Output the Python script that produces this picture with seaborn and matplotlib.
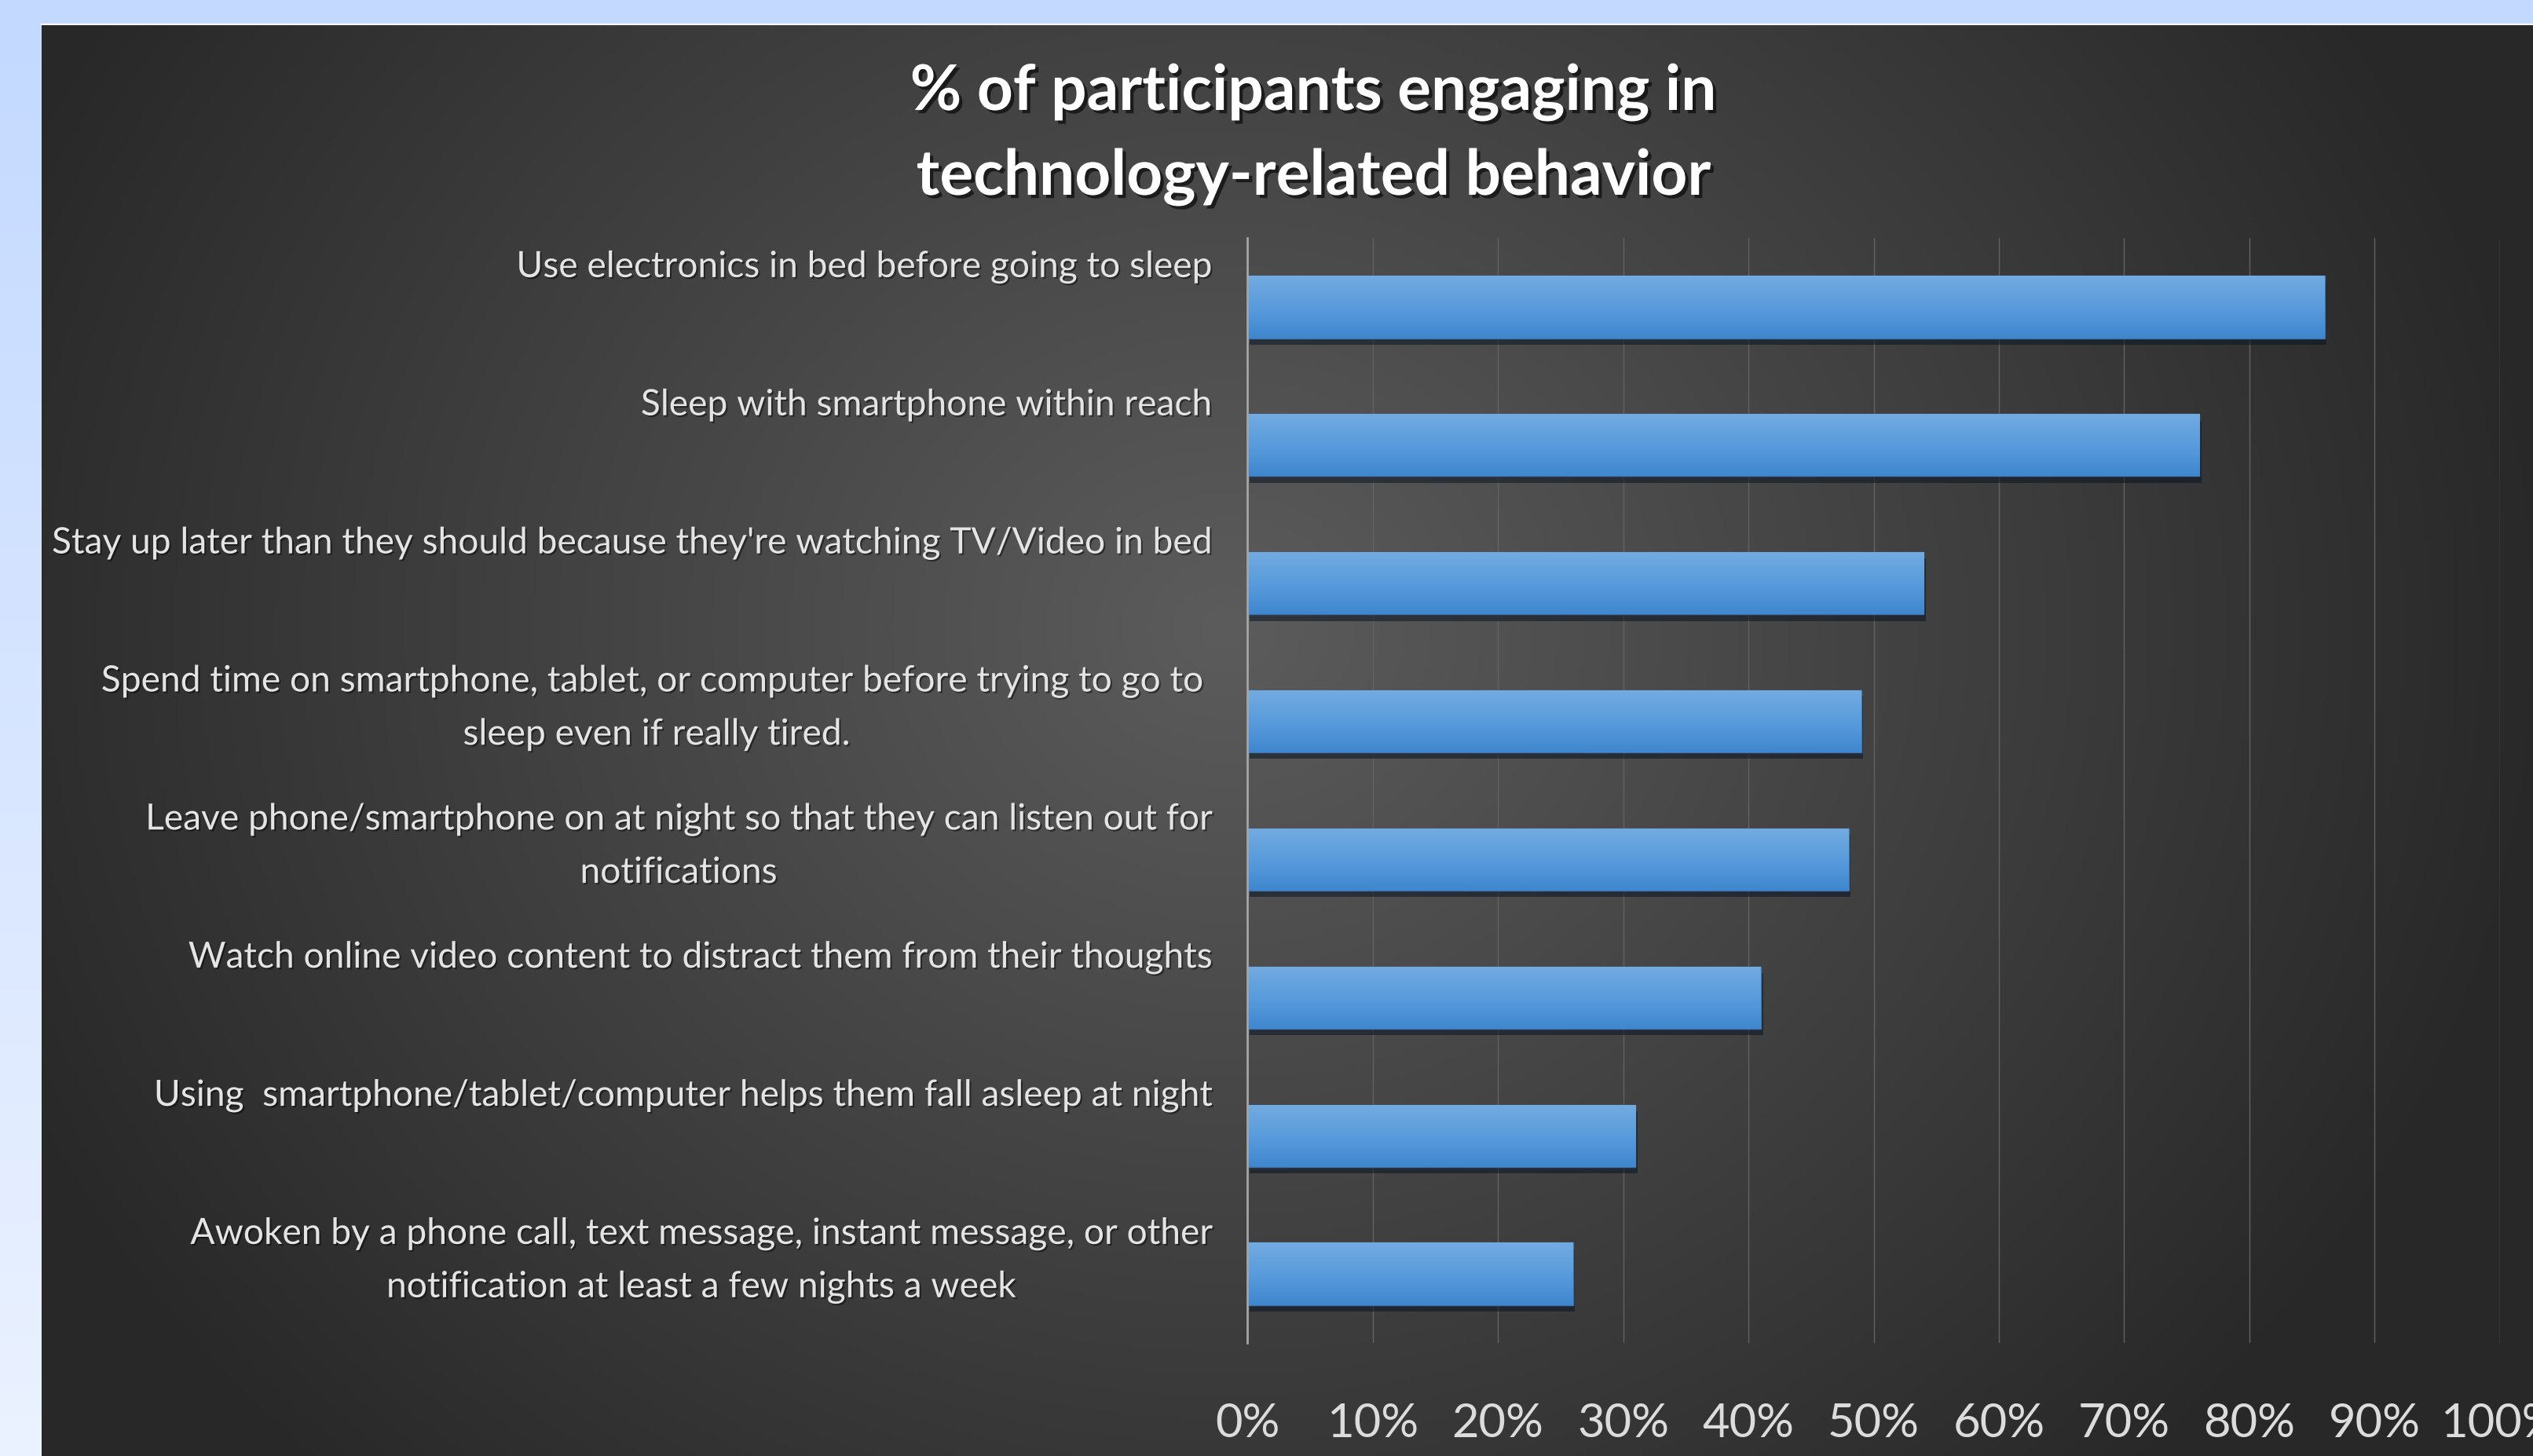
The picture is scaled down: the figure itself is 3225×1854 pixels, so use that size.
import numpy as np
import pandas as pd
import matplotlib
matplotlib.use("Agg")
import matplotlib.pyplot as plt
import matplotlib.patheffects as pe
from matplotlib import font_manager
from matplotlib.colors import LinearSegmentedColormap
from matplotlib.lines import Line2D
import seaborn as sns

# ---- data -------------------------------------------------------------
behaviors = [
    "Use electronics in bed before going to sleep",
    "Sleep with smartphone within reach",
    "Stay up later than they should because they're watching TV/Video in bed",
    "Spend time on smartphone, tablet, or computer before trying to go to \nsleep even if really tired.",
    "Leave phone/smartphone on at night so that they can listen out for\nnotifications",
    "Watch online video content to distract them from their thoughts",
    "Using  smartphone/tablet/computer helps them fall asleep at night",
    "Awoken by a phone call, text message, instant message, or other\nnotification at least a few nights a week",
]
share = [0.86, 0.76, 0.54, 0.49, 0.48, 0.41, 0.31, 0.26]
tick_values = [0.0, 0.1, 0.2, 0.3, 0.4, 0.5, 0.6, 0.7, 0.8, 0.9, 1.0]
tick_labels = ["0%", "10%", "20%", "30%", "40%", "50%", "60%", "70%", "80%", "90%", "100%"]
title = "% of participants engaging in\ntechnology-related behavior"


def pick_font(names):
    for n in names:
        try:
            font_manager.findfont(font_manager.FontProperties(family=n),
                                  fallback_to_default=False)
            return n
        except Exception:
            pass
    return "DejaVu Sans"


body_font = pick_font(["Lato", "Open Sans", "DejaVu Sans"])

sns.set_theme(style="white")
plt.rcParams["font.family"] = [body_font, "DejaVu Sans"]

W, H, DPI = 3225, 1854, 100
fig = plt.figure(figsize=(W / DPI, H / DPI), dpi=DPI)


def px_rect(x0, y0, x1, y1):
    """Figure-fraction rectangle from pixel box measured from top-left."""
    return [x0 / W, 1 - y1 / H, (x1 - x0) / W, (y1 - y0) / H]


# ---- page background: pale blue vertical wash -------------------------
bg = fig.add_axes([0, 0, 1, 1], zorder=-3)
bg.axis("off")
blue_wash = LinearSegmentedColormap.from_list("wash", ["#c3d9ff", "#ebf2ff"])
bg.imshow(np.linspace(0, 1, 256)[:, None], cmap=blue_wash, aspect="auto",
          extent=[0, 1, 0, 1], origin="upper")
bg.set_xlim(0, 1)
bg.set_ylim(0, 1)

# ---- dark slide panel with radial light ----------------------------------
panel = fig.add_axes(px_rect(53, 32, W, H), zorder=-2)
panel.axis("off")
ny, nx = 360, 640
yy, xx = np.mgrid[0:ny, 0:nx]
gx = 53 + xx / (nx - 1) * (W - 53)
gy = 32 + yy / (ny - 1) * (H - 32)
dist = np.sqrt(((gx - 1560) / 1700) ** 2 + ((gy - 800) / 1500) ** 2)
level = (40 + 52 * np.clip(1 - dist, 0, 1)) / 255.0
rgb = np.dstack([level, level, level])
panel.imshow(rgb, aspect="auto", extent=[0, 1, 0, 1], origin="upper")
panel.set_xlim(0, 1)
panel.set_ylim(0, 1)
fig.add_artist(Line2D([53 / W, 1], [1 - 31 / H] * 2, color="white", lw=1.5))

# ---- bar chart -----------------------------------------------------------
ax = fig.add_axes(px_rect(1588, 303, 3183, 1710))
ax.set_facecolor("none")
df = pd.DataFrame({"behavior": behaviors, "share": share})
sns.barplot(data=df, x="share", y="behavior", orient="h", color="#5497d9",
            saturation=1, width=0.45, edgecolor="#3b73ad", linewidth=1,
            ax=ax)

bar_cmap = LinearSegmentedColormap.from_list(
    "bar", ["#72abe0", "#5a9bdc", "#4087cf"])
for patch in ax.patches:
    patch.set_path_effects([
        pe.withSimplePatchShadow(offset=(2, -6), shadow_rgbFace="#0b1522",
                                 alpha=0.55)])
    x0, y0 = patch.get_x(), patch.get_y()
    w, h = patch.get_width(), patch.get_height()
    im = ax.imshow(np.linspace(0, 1, 64)[:, None], cmap=bar_cmap,
                   aspect="auto", extent=[x0, x0 + w, y0 + h, y0],
                   origin="upper", zorder=patch.get_zorder() + 0.1)
    im.set_clip_path(patch)

ax.set_xlim(0, 1)
ax.set_ylim(len(behaviors) - 0.5, -0.5)
ax.set_aspect("auto")

ax.set_axisbelow(True)
ax.grid(axis="x", color="#626262", linewidth=1.0)
ax.grid(axis="y", visible=False)
for side in ["top", "right", "bottom"]:
    ax.spines[side].set_visible(False)
ax.spines["left"].set_color("#a5a5a5")
ax.spines["left"].set_linewidth(2)

ax.set_xticks(tick_values)
ax.set_xticklabels(tick_labels, fontsize=43, color="#dcdcdc")
ax.tick_params(axis="x", length=0, pad=55)
ax.tick_params(axis="y", length=0, labelleft=False)
ax.set_xlabel("")
ax.set_ylabel("")

label_fx = [pe.withSimplePatchShadow(offset=(1.5, -1.5), shadow_rgbFace="black",
                                     alpha=0.45)]
for i, lab in enumerate(behaviors):
    ax.text(-0.0282, i - 0.5 + 0.09, lab, transform=ax.get_yaxis_transform(),
            ha="right", va="top", multialignment="center", fontsize=33.2,
            color="#e4e4e4", linespacing=1.76, path_effects=label_fx,
            clip_on=False)

# ---- title ---------------------------------------------------------------
fig.text(1672 / W, 1 - 80 / H, title, ha="center", va="top",
         multialignment="center", fontsize=57.7, fontweight="bold",
         color="white", linespacing=1.54,
         path_effects=[pe.withSimplePatchShadow(offset=(3, -3),
                                                shadow_rgbFace="black",
                                                alpha=0.6)])

fig.savefig("out.png", dpi=DPI)
